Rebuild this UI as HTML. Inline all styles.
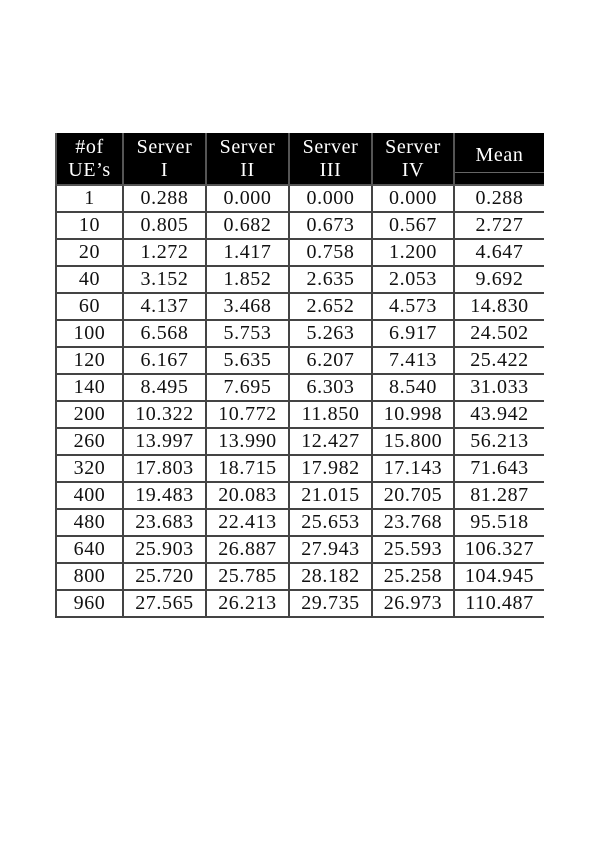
<!DOCTYPE html>
<html><head><meta charset="utf-8"><style>
body{margin:0;width:596px;height:842px;background:#fff;position:relative;overflow:hidden;font-family:"Liberation Serif",serif;}
table{position:absolute;left:55px;top:133px;border-collapse:collapse;table-layout:fixed;}
td,th{border:2px solid #444;text-align:center;font-size:20px;letter-spacing:0.6px;color:#111;padding:0;font-weight:normal;height:25px;line-height:25px;}
th{background:#000;color:#fff;height:51px;line-height:23px;border-color:#555;border-top:none;}
th.last,td.last{border-right:none;}
th.mean{position:relative;}
th.mean span{display:block;}
th.mean:after{content:"";position:absolute;left:0;right:0;bottom:11px;height:1px;background:#666;}
</style></head><body>
<table>
<colgroup><col style="width:67px"><col style="width:83px"><col style="width:83px"><col style="width:83px"><col style="width:82px"><col style="width:90px"></colgroup>
<thead><tr>
<th>#of<br>UE’s</th>
<th>Server<br>I</th>
<th>Server<br>II</th>
<th>Server<br>III</th>
<th>Server<br>IV</th>
<th class="mean last"><span style="margin-top:-6px">Mean</span></th>
</tr></thead>
<tbody id="tb"></tbody>
</table>
<script>
const ues=["1","10","20","40","60","100","120","140","200","260","320","400","480","640","800","960"];
const s1=["0.288","0.805","1.272","3.152","4.137","6.568","6.167","8.495","10.322","13.997","17.803","19.483","23.683","25.903","25.720","27.565"];
const s2=["0.000","0.682","1.417","1.852","3.468","5.753","5.635","7.695","10.772","13.990","18.715","20.083","22.413","26.887","25.785","26.213"];
const s3=["0.000","0.673","0.758","2.635","2.652","5.263","6.207","6.303","11.850","12.427","17.982","21.015","25.653","27.943","28.182","29.735"];
const s4=["0.000","0.567","1.200","2.053","4.573","6.917","7.413","8.540","10.998","15.800","17.143","20.705","23.768","25.593","25.258","26.973"];
const mean=["0.288","2.727","4.647","9.692","14.830","24.502","25.422","31.033","43.942","56.213","71.643","81.287","95.518","106.327","104.945","110.487"];
const tb=document.getElementById('tb');
ues.forEach((u,i)=>{
  const tr=document.createElement('tr');
  
  
  [u,s1[i],s2[i],s3[i],s4[i],mean[i]].forEach((v,j)=>{
    const td=document.createElement('td');
    
    
    if(j===5)td.className='last';
    td.textContent=v;tr.appendChild(td);
  });
  tb.appendChild(tr);
});
</script>
</body></html>
